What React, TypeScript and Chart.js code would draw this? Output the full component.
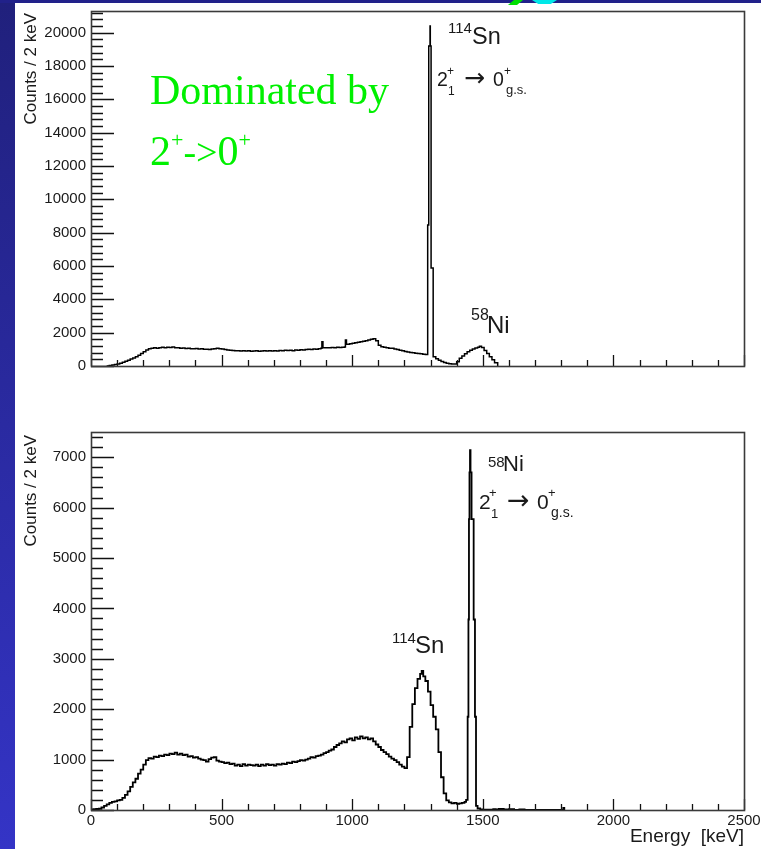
import React, { useEffect, useRef } from 'react';
import { Chart, registerables } from 'chart.js';

Chart.register(...registerables);

const SANS = '"Liberation Sans", Arial, Helvetica, sans-serif';
const SERIF = '"Liberation Serif", "Times New Roman", serif';

// ---------- Data (energy in keV = lower bin edge, counts per 2 keV) ----------
const topEnergy = [
  60, 70, 80, 90, 100, 110, 120, 130, 140, 150,
  160, 170, 180, 190, 200, 210, 220, 230, 240, 250,
  260, 270, 280, 290, 300, 310, 320, 330, 340, 350,
  360, 370, 380, 390, 400, 410, 420, 430, 440, 450,
  460, 470, 480, 490, 500, 510, 520, 530, 540, 550,
  560, 570, 580, 590, 600, 610, 620, 630, 640, 650,
  660, 670, 680, 690, 700, 710, 720, 730, 740, 750,
  760, 770, 780, 790, 800, 810, 820, 830, 840, 850,
  860, 870, 880, 884, 888, 900, 910, 920, 930, 940,
  950, 960, 970, 974, 978, 990, 1000, 1010, 1020, 1030,
  1040, 1050, 1060, 1070, 1080, 1090, 1100, 1110, 1120, 1130,
  1140, 1150, 1160, 1170, 1180, 1190, 1200, 1210, 1220, 1230,
  1240, 1250, 1260, 1270, 1280, 1289, 1293, 1298, 1299, 1302,
  1310, 1320, 1330, 1340, 1350, 1360, 1370, 1380, 1390,
  1400, 1410, 1420, 1430, 1440, 1450, 1460, 1470, 1480,
  1487, 1495, 1505, 1515, 1525, 1535, 1545, 1557,
];
const topCounts = [
  0, 30, 55, 90, 120, 170, 220, 290, 350, 420,
  480, 560, 650, 750, 860, 960, 1030, 1060, 1090, 1070,
  1100, 1120, 1090, 1130, 1110, 1140, 1100, 1090, 1070, 1080,
  1050, 1060, 1040, 1030, 1050, 1020, 1030, 1000, 1010, 990,
  1020, 1040, 1060, 1030, 1020, 990, 960, 950, 930, 920,
  910, 900, 920, 900, 910, 890, 900, 910, 890, 900,
  920, 900, 910, 900, 920, 900, 930, 920, 940, 930,
  950, 920, 960, 950, 980, 960, 990, 1000, 990, 1020,
  1010, 1040, 1060, 1460, 1100, 1100, 1090, 1110, 1100, 1120,
  1110, 1130, 1140, 1560, 1300, 1330, 1370, 1400, 1420, 1450,
  1480, 1510, 1560, 1600, 1630, 1520, 1250, 1150, 1120, 1100,
  1070, 1060, 1020, 990, 950, 910, 870, 840, 810, 790,
  770, 750, 730, 710, 690, 8460, 19200, 20400, 19200, 5880,
  560, 440, 340, 270, 210, 170, 140, 120, 120,
  250, 460, 600, 740, 860, 950, 1020, 1080, 1130,
  1180, 1110, 930, 750, 560, 380, 200, 0,
];

const bottomEnergy = [
  0, 10, 20, 30, 40, 50, 60, 70, 80, 90,
  100, 110, 120, 130, 140, 150, 160, 170, 180, 190,
  200, 210, 220, 230, 240, 250, 260, 270, 280, 290,
  300, 310, 320, 330, 340, 350, 360, 370, 380, 390,
  400, 410, 420, 430, 440, 450, 460, 470, 480, 490,
  500, 510, 520, 530, 540, 550, 560, 570, 580, 590,
  600, 610, 620, 630, 640, 650, 660, 670, 680, 690,
  700, 710, 720, 730, 740, 750, 760, 770, 780, 790,
  800, 810, 820, 830, 840, 850, 860, 870, 880, 890,
  900, 910, 920, 930, 940, 950, 960, 970, 980, 990,
  1000, 1010, 1020, 1030, 1040, 1050, 1060, 1070, 1080, 1090,
  1100, 1110, 1120, 1130, 1140, 1150, 1160, 1170, 1180, 1190,
  1200, 1210, 1220, 1230, 1240, 1250, 1260, 1266, 1272, 1280, 1290,
  1300, 1310, 1320, 1330, 1340, 1350, 1360, 1370, 1380, 1390, 1400, 1410, 1420, 1430, 1436,
  1442, 1445, 1447, 1449, 1451, 1453, 1457, 1465, 1470, 1474, 1480, 1490, 1500,
  1520, 1540, 1550, 1560, 1580, 1600, 1620, 1640, 1660, 1808, 1812,
];
const bottomCounts = [
  10, 15, 20, 25, 50, 80, 110, 140, 160, 170,
  190, 200, 240, 300, 370, 460, 550, 620, 720, 800,
  900, 990, 1030, 1020, 1060, 1050, 1080, 1070, 1100, 1090,
  1120, 1110, 1140, 1100, 1120, 1090, 1100, 1060, 1070, 1040,
  1050, 1020, 1000, 990, 960, 1010, 1040, 1050, 980, 960,
  950, 930, 940, 910, 920, 880, 900, 870, 910, 880,
  900, 890, 880, 900, 870, 900, 880, 910, 890, 900,
  880, 910, 900, 920, 910, 940, 930, 960, 950, 970,
  990, 980, 1000, 1020, 1050, 1040, 1070, 1080, 1100, 1130,
  1150, 1180, 1200, 1250, 1290, 1320, 1360, 1340, 1400, 1420,
  1380, 1440, 1410, 1460, 1420, 1440, 1400, 1420, 1360, 1300,
  1250, 1190, 1150, 1110, 1060, 1020, 990, 950, 900, 860,
  830, 1050, 1650, 2100, 2420, 2600, 2700, 2760, 2650, 2560, 2350,
  2080, 1850, 1600, 1150, 650, 330, 190, 150, 130, 140, 120, 130, 140, 160, 200,
  1850, 3780, 5770, 6700, 7140, 6700, 5770, 3780, 1850, 80, 30, 12, 5,
  8, 15, 6, 20, 10, 18, 4, 12, 0, 40, 0,
];

const xTickLabels = [0, 500, 1000, 1500, 2000, 2500];
const topYTickLabels = [0, 2000, 4000, 6000, 8000, 10000, 12000, 14000, 16000, 18000, 20000];
const bottomYTickLabels = [0, 1000, 2000, 3000, 4000, 5000, 6000, 7000];

const topYMinor = 400;
const topYMax = 21300;
const bottomYMinor = 200;
const bottomYMax = 7500;
const xMax = 2500;
const xMajor = 500;
const xMinor = 100;

// ---------- helpers ----------
function toPoints(xs: number[], ys: number[]) {
  return xs.map((x, i) => ({ x, y: ys[i] }));
}

function txt(ctx: CanvasRenderingContext2D, s: string, x: number, y: number, size: number, color = '#1a1a1a', family = SANS) {
  ctx.font = `${size}px ${family}`;
  ctx.fillStyle = color;
  ctx.textAlign = 'left';
  ctx.textBaseline = 'alphabetic';
  ctx.fillText(s, x, y);
  return ctx.measureText(s).width;
}

function makeRootPlugin(opts: {
  yMax: number; yMajor: number; yMinor: number; titleTop: number; annotate: (ctx: CanvasRenderingContext2D) => void;
}) {
  return {
    id: 'rootStyle',
    afterDatasetsDraw(chart: any) {
      const { ctx, chartArea: a, scales } = chart;
      const xs = scales.x;
      const ys = scales.y;
      ctx.save();
      ctx.strokeStyle = '#111';
      ctx.lineWidth = 1.3;
      ctx.beginPath();
      for (let v = 0; v <= xMax + 0.001; v += xMinor) {
        const px = Math.round(xs.getPixelForValue(v)) + 0.5;
        const len = Math.abs(v % xMajor) < 1e-6 ? 11 : 6;
        ctx.moveTo(px, a.bottom);
        ctx.lineTo(px, a.bottom - len);
      }
      for (let v = 0; v <= opts.yMax + 0.001; v += opts.yMinor) {
        const py = Math.round(ys.getPixelForValue(v)) + 0.5;
        const len = Math.abs(v % opts.yMajor) < 1e-6 ? 23 : 12;
        ctx.moveTo(a.left, py);
        ctx.lineTo(a.left + len, py);
      }
      ctx.stroke();
      // frame
      ctx.strokeStyle = '#3a3a3a';
      ctx.lineWidth = 1.6;
      ctx.strokeRect(Math.round(a.left) + 0.5, Math.round(a.top) + 0.5, Math.round(a.right - a.left), Math.round(a.bottom - a.top));
      // y title
      ctx.save();
      ctx.translate(36, opts.titleTop);
      ctx.rotate(-Math.PI / 2);
      ctx.font = `17px ${SANS}`;
      ctx.fillStyle = '#1a1a1a';
      ctx.textAlign = 'right';
      ctx.textBaseline = 'alphabetic';
      ctx.fillText('Counts / 2 keV', 0, 0);
      ctx.restore();
      opts.annotate(ctx);
      ctx.restore();
    },
  };
}

const topAnnotate = (ctx: CanvasRenderingContext2D) => {
  // 114Sn label
  txt(ctx, '114', 448, 33, 15);
  txt(ctx, 'Sn', 472, 44, 23.5);
  // 2_1^+ -> 0^+_g.s.
  txt(ctx, '2', 437, 86, 19.5);
  txt(ctx, '+', 447, 75, 12);
  txt(ctx, '1', 448, 95, 12);
  txt(ctx, '\u2192', 464, 86, 25, '#1a1a1a', '"DejaVu Sans", sans-serif');
  txt(ctx, '0', 493, 86, 19.5);
  txt(ctx, '+', 504, 75, 12);
  txt(ctx, 'g.s.', 506, 94, 13);
  // 58Ni
  txt(ctx, '58', 471, 320, 16);
  txt(ctx, 'Ni', 487, 333, 24);
  // green text
  const g = '#00f000';
  txt(ctx, 'Dominated by', 150, 104, 42, g, SERIF);
  let x = 150;
  x += txt(ctx, '2', x, 165, 42, g, SERIF);
  x += txt(ctx, '+', x, 147, 22, g, SERIF);
  x += txt(ctx, '->', x, 165, 38, g, SERIF);
  x += txt(ctx, '0', x, 165, 42, g, SERIF);
  txt(ctx, '+', x, 147, 22, g, SERIF);
};

const bottomAnnotate = (ctx: CanvasRenderingContext2D) => {
  const o = 400; // canvas offset on page
  txt(ctx, '58', 488, 467 - o, 15);
  txt(ctx, 'Ni', 503, 471 - o, 22);
  txt(ctx, '2', 479, 509 - o, 21);
  txt(ctx, '+', 489, 497 - o, 13);
  txt(ctx, '1', 491, 518 - o, 13);
  txt(ctx, '\u2192', 507, 509 - o, 27, '#1a1a1a', '"DejaVu Sans", sans-serif');
  txt(ctx, '0', 537, 509 - o, 21);
  txt(ctx, '+', 548, 497 - o, 13);
  txt(ctx, 'g.s.', 551, 517 - o, 14);
  txt(ctx, '114', 392, 643 - o, 15);
  txt(ctx, 'Sn', 415, 653 - o, 24);
  // x-axis title
  ctx.font = `19px ${SANS}`;
  ctx.fillStyle = '#1a1a1a';
  ctx.textAlign = 'right';
  ctx.textBaseline = 'alphabetic';
  ctx.fillText('Energy  [keV]', 744, 842 - o);
};

function makeConfig(points: any[], p: {
  yMax: number; yTicks: number[]; yMinor: number; padTop: number; xHeight: number; showX: boolean; titleTop: number;
  lineWidth: number; annotate: (ctx: CanvasRenderingContext2D) => void;
}): any {
  const yMajor = p.yTicks[1] - p.yTicks[0];
  return {
    type: 'line',
    data: {
      datasets: [{
        data: points,
        borderColor: '#000',
        borderWidth: p.lineWidth,
        pointRadius: 0,
        stepped: true,
        fill: false,
        tension: 0,
      }],
    },
    options: {
      responsive: false,
      animation: false,
      events: [],
      layout: { padding: { left: 0, right: 17, top: p.padTop, bottom: 0 } },
      plugins: { legend: { display: false }, tooltip: { enabled: false } },
      scales: {
        x: {
          type: 'linear',
          min: 0,
          max: xMax,
          grid: { display: false, drawTicks: false, tickLength: 0 },
          border: { display: false },
          afterBuildTicks: (s: any) => { s.ticks = xTickLabels.map((v) => ({ value: v })); },
          ticks: {
            display: p.showX,
            autoSkip: false,
            maxRotation: 0,
            padding: 2,
            color: '#1a1a1a',
            font: { family: SANS, size: 15 },
            callback: (v: any) => String(v),
          },
          afterFit: (s: any) => { s.height = p.xHeight; s.paddingLeft = 0; s.paddingRight = 0; },
        },
        y: {
          type: 'linear',
          min: 0,
          max: p.yMax,
          grid: { display: false, drawTicks: false, tickLength: 0 },
          border: { display: false },
          afterBuildTicks: (s: any) => { s.ticks = p.yTicks.map((v) => ({ value: v })); },
          ticks: {
            autoSkip: false,
            padding: 5,
            color: '#1a1a1a',
            font: { family: SANS, size: 15 },
            callback: (v: any) => String(v),
          },
          afterFit: (s: any) => { s.width = 91; s.paddingTop = 0; s.paddingBottom = 0; },
        },
      },
    },
    plugins: [makeRootPlugin({ yMax: p.yMax, yMajor, yMinor: p.yMinor, titleTop: p.titleTop, annotate: p.annotate })],
  };
}

export default function App() {
  const topRef = useRef<HTMLCanvasElement>(null);
  const botRef = useRef<HTMLCanvasElement>(null);

  useEffect(() => {
    const c1 = new Chart(topRef.current as HTMLCanvasElement, makeConfig(toPoints(topEnergy, topCounts), {
      yMax: topYMax, yTicks: topYTickLabels, yMinor: topYMinor, padTop: 11, xHeight: 34, showX: false, titleTop: 13,
      lineWidth: 1.5, annotate: topAnnotate,
    }));
    const c2 = new Chart(botRef.current as HTMLCanvasElement, makeConfig(toPoints(bottomEnergy, bottomCounts), {
      yMax: bottomYMax, yTicks: bottomYTickLabels, yMinor: bottomYMinor, padTop: 32, xHeight: 39, showX: true, titleTop: 35,
      lineWidth: 1.8, annotate: bottomAnnotate,
    }));
    return () => { c1.destroy(); c2.destroy(); };
  }, []);

  return (
    <div style={{ position: 'fixed', left: 0, top: 0, width: 761, height: 849, background: '#fff', overflow: 'hidden' }}>
      <div style={{ position: 'absolute', left: 0, top: 0, width: 15, height: 849, background: 'linear-gradient(#20207c, #3434c6)' }} />
      <div style={{ position: 'absolute', left: 0, top: 0, width: 761, height: 3, background: '#21218a' }} />
      <div style={{ position: 'absolute', left: 508, top: 0, width: 15, height: 5, background: '#00e000', clipPath: 'polygon(40% 0, 100% 0, 60% 100%, 0 100%)' }} />
      <div style={{ position: 'absolute', left: 532, top: 0, width: 25, height: 4, background: '#00e8e8', clipPath: 'polygon(0 0, 100% 0, 75% 100%, 25% 100%)' }} />
      <canvas ref={topRef} width={761} height={400} style={{ position: 'absolute', left: 0, top: 0, width: 761, height: 400 }} />
      <canvas ref={botRef} width={761} height={449} style={{ position: 'absolute', left: 0, top: 400, width: 761, height: 449 }} />
    </div>
  );
}
